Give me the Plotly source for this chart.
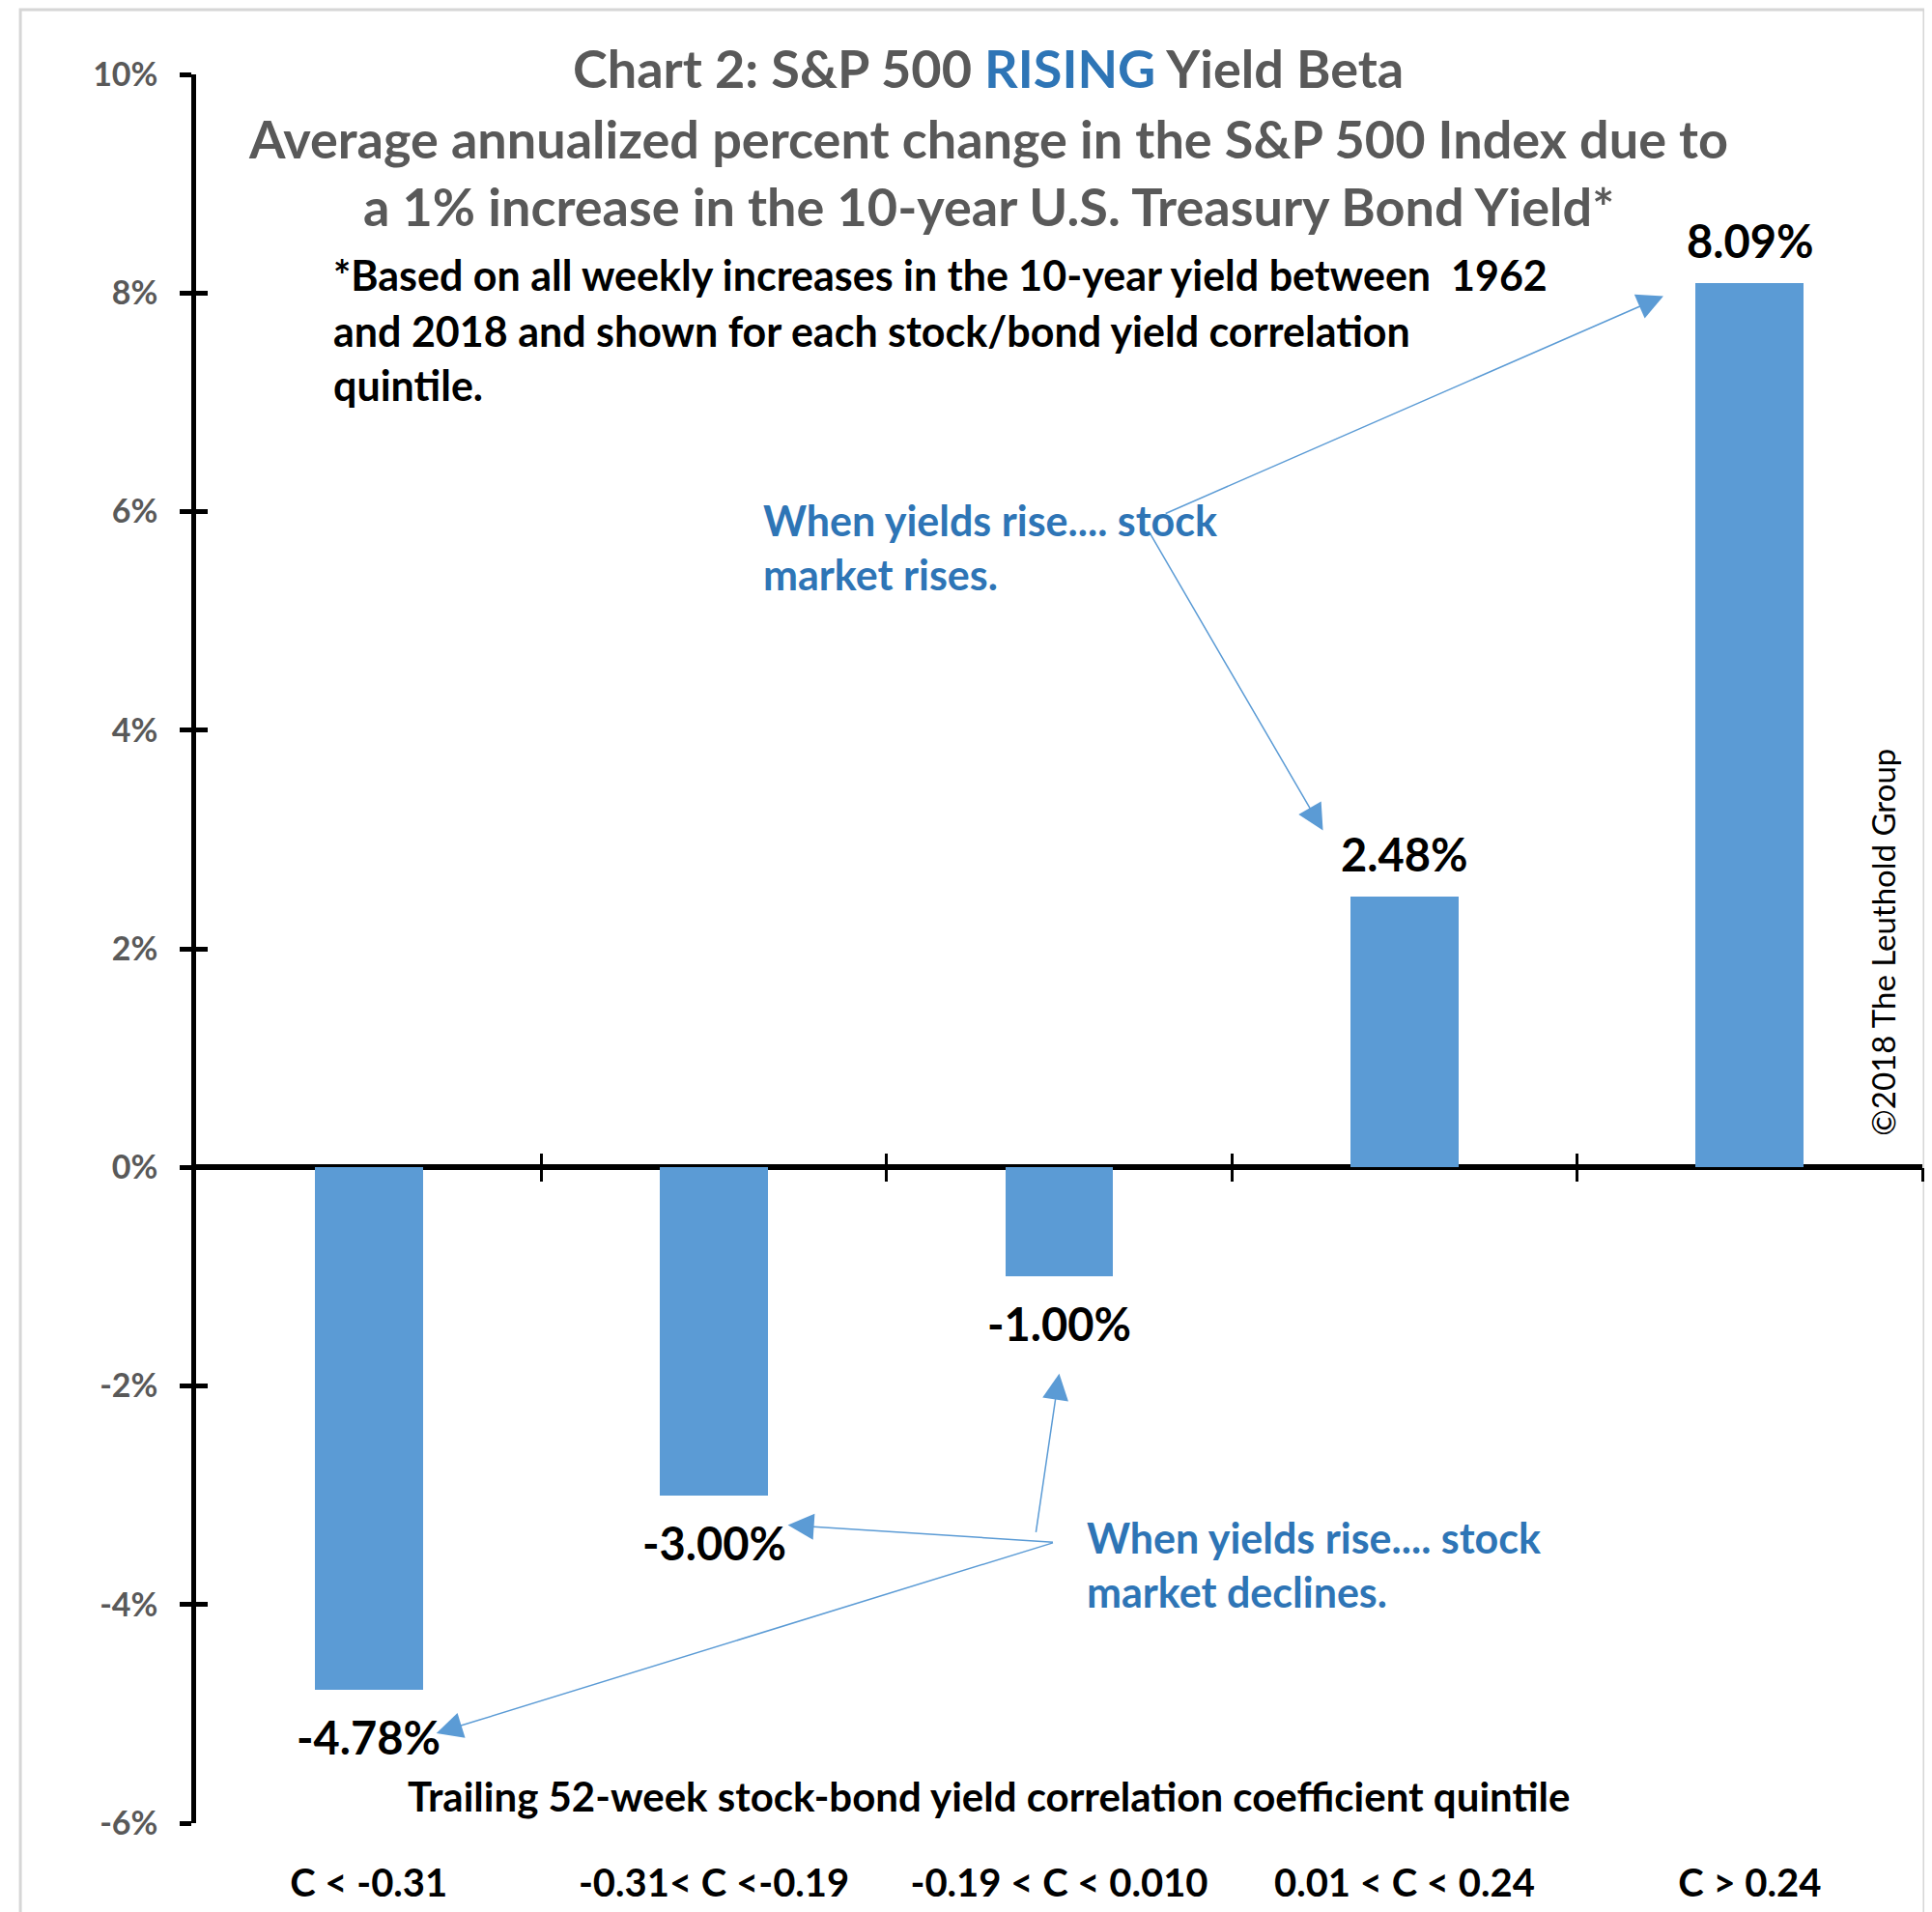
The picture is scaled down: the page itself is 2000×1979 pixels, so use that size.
import plotly.graph_objects as go

# ---- data ----
categories = ["C < -0.31", "-0.31< C <-0.19", "-0.19 < C < 0.010", "0.01 < C < 0.24", "C > 0.24"]
values = [-4.78, -3.00, -1.00, 2.48, 8.09]
value_labels = ["-4.78%", "-3.00%", "-1.00%", "2.48%", "8.09%"]
y_tick_vals = [-6, -4, -2, 0, 2, 4, 6, 8, 10]
y_tick_text = ["-6%", "-4%", "-2%", "0%", "2%", "4%", "6%", "8%", "10%"]

title_lines = [
    "Chart 2: S&P 500 <span style='color:#2E75B6'>RISING</span> Yield Beta",
    "Average annualized percent change in the S&P 500 Index due to",
    "a 1% increase in the 10-year U.S. Treasury Bond Yield*",
]
note_lines = [
    "*Based on all weekly increases in the 10-year yield between  1962",
    "and 2018 and shown for each stock/bond yield correlation",
    "quintile.",
]
rise_lines = ["When yields rise.... stock", "market rises."]
decline_lines = ["When yields rise.... stock", "market declines."]
x_title = "Trailing 52-week stock-bond yield correlation coefficient quintile"
copyright_text = "©2018 The Leuthold Group"

FONT = "Lato"
BAR = "#5B9BD5"
BLUE = "#2E75B6"
GRAY = "#595959"

xs = list(range(len(categories)))
boundaries = [i + 0.5 for i in xs]

fig = go.Figure()
fig.add_trace(go.Bar(x=xs, y=values, marker=dict(color=BAR, line=dict(width=0)),
                     width=0.313, showlegend=False, hoverinfo="skip"))
# helper empty traces so the tick-overlay axes get drawn
fig.add_trace(go.Scatter(x=[], y=[], xaxis="x", yaxis="y2", showlegend=False, hoverinfo="skip"))
fig.add_trace(go.Scatter(x=[], y=[], xaxis="x2", yaxis="y", showlegend=False, hoverinfo="skip"))
fig.add_trace(go.Scatter(x=[], y=[], xaxis="x3", yaxis="y", showlegend=False, hoverinfo="skip"))

yr = [min(y_tick_vals), max(y_tick_vals)]
zero_pos = (0 - yr[0]) / (yr[1] - yr[0])

fig.update_layout(
    width=2000, height=1979,
    margin=dict(l=195, r=18, t=69, b=100),
    paper_bgcolor="white", plot_bgcolor="white",
    bargap=0,
    xaxis=dict(range=[-0.5, len(categories) - 0.5], tickvals=xs, ticktext=categories,
               ticks="outside", ticklen=27, tickcolor="rgba(0,0,0,0)",
               tickfont=dict(family=FONT, size=40, color="black", weight="bold"),
               showline=False, showgrid=False, zeroline=False),
    xaxis2=dict(overlaying="x", anchor="free", position=zero_pos,
                range=[-0.5, len(categories) - 0.5], tickvals=boundaries,
                ticks="outside", ticklen=14, tickwidth=2.5, tickcolor="black",
                showticklabels=False, showline=False, showgrid=False, zeroline=False),
    xaxis3=dict(overlaying="x", anchor="free", position=zero_pos,
                range=[-0.5, len(categories) - 0.5], tickvals=boundaries,
                ticks="inside", ticklen=14, tickwidth=2.5, tickcolor="black",
                showticklabels=False, showline=False, showgrid=False, zeroline=False),
    yaxis=dict(range=yr, tickvals=y_tick_vals, ticktext=y_tick_text,
               ticks="outside", ticklen=12, tickwidth=5, tickcolor="black",
               showline=True, linecolor="black", linewidth=4.5,
               zeroline=True, zerolinecolor="black", zerolinewidth=5.5,
               showgrid=False, ticklabelstandoff=16,
               tickfont=dict(family=FONT, size=34, color=GRAY, weight="bold")),
    yaxis2=dict(overlaying="y", anchor="x", side="left", range=yr, tickvals=y_tick_vals,
                ticks="inside", ticklen=12, tickwidth=5, tickcolor="black",
                showticklabels=False, showline=False, showgrid=False, zeroline=False),
)

anns = []
# title
for txt, yy in zip(title_lines, [1.0035, 0.9634, 0.9246]):
    anns.append(dict(text=txt, x=0.459, y=yy, xref="paper", yref="paper", xanchor="center",
                     yanchor="middle", showarrow=False,
                     font=dict(family=FONT, size=54, color=GRAY, weight="bold")))
# note
for txt, yy in zip(note_lines, [0.8852, 0.8535, 0.8225]):
    anns.append(dict(text=txt, x=0.0786, y=yy, xref="paper", yref="paper", xanchor="left",
                     yanchor="middle", showarrow=False,
                     font=dict(family=FONT, size=43, color="black", weight="bold")))
for txt, yy in zip(rise_lines, [0.7451, 0.7141]):
    anns.append(dict(text=txt, x=0.3271, y=yy, xref="paper", yref="paper", xanchor="left",
                     yanchor="middle", showarrow=False,
                     font=dict(family=FONT, size=43, color=BLUE, weight="bold")))
for txt, yy in zip(decline_lines, [0.1634, 0.1324]):
    anns.append(dict(text=txt, x=0.515, y=yy, xref="paper", yref="paper", xanchor="left",
                     yanchor="middle", showarrow=False,
                     font=dict(family=FONT, size=43, color=BLUE, weight="bold")))
anns.append(dict(text=x_title, x=0.459, y=0.0155, xref="paper", yref="paper", xanchor="center",
                 yanchor="middle", showarrow=False,
                 font=dict(family=FONT, size=42, color="black", weight="bold")))
anns.append(dict(text=copyright_text, x=0.977, y=0.504, xref="paper", yref="paper",
                 xanchor="center", yanchor="middle", textangle=-90, showarrow=False,
                 font=dict(family=FONT, size=33, color="black")))
# data labels
for xv, v, lab in zip(xs, values, value_labels):
    anns.append(dict(text=lab, x=xv, y=v, xref="x", yref="y", xanchor="center", yanchor="middle",
                     yshift=44 if v > 0 else -49, showarrow=False,
                     font=dict(family=FONT, size=47, color="black", weight="bold")))
# arrows (head x,y ; tail ax,ay)
arrows = [
    (3.75, 7.972, 2.304, 5.977),
    (2.764, 3.082, 2.261, 5.81),
    (2.0, -1.887, 1.932, -3.352),
    (1.214, -3.273, 1.986, -3.431),
    (0.196, -5.177, 1.986, -3.431),
]
for hx, hy, tx, ty in arrows:
    anns.append(dict(text="", x=hx, y=hy, ax=tx, ay=ty, xref="x", yref="y", axref="x", ayref="y",
                     showarrow=True, arrowhead=2, arrowsize=3.6, arrowwidth=1.5,
                     arrowcolor=BAR, standoff=0, startstandoff=0))
fig.update_layout(annotations=anns)

fig.add_shape(type="rect", xref="paper", yref="paper", x0=-0.1018, x1=1.0011, y0=-0.053, y1=1.037,
              line=dict(color="#D6D6D6", width=3), fillcolor="rgba(0,0,0,0)", layer="below")

fig.write_html("out.html")
